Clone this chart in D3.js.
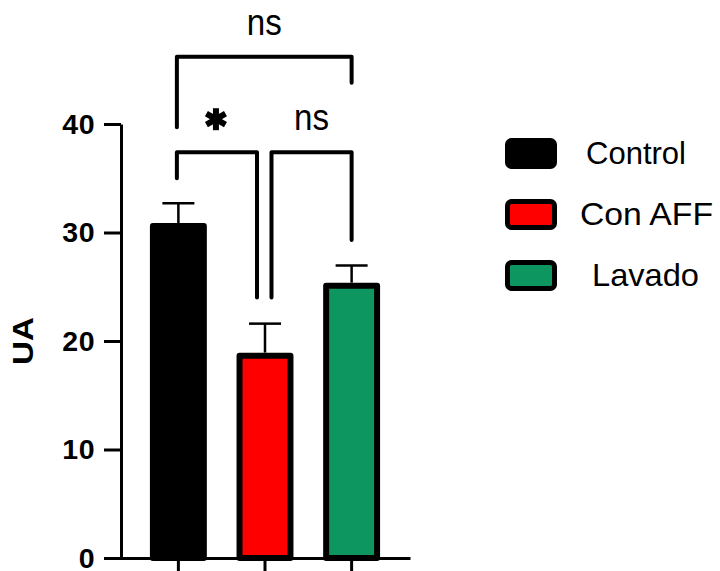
<!DOCTYPE html>
<html>
<head>
<meta charset="utf-8">
<script src="https://cdn.jsdelivr.net/npm/d3@7/dist/d3.min.js"></script>
<style>
  html, body { margin: 0; padding: 0; background: #fff; }
  svg { display: block; }
  text { font-family: "Liberation Sans", Arial, Helvetica, sans-serif; }
</style>
</head>
<body>
<svg id="chart" width="720" height="571"></svg>
<script>
// Groups, means and upper error limits (mean + SEM)
const groups = ["Control", "Con AFF", "Lavado"];
const means = [30.6, 18.65, 25.1];
const upper = [32.7, 21.6, 26.95];
const fills = ["#000000", "#ff0000", "#0e9660"];
const yTicks = [0, 10, 20, 30, 40];
const yLabel = "UA";

// Pairwise comparisons: [group A, group B, label]
const comparisons = [
  ["Control", "Con AFF", "*"],
  ["Con AFF", "Lavado", "ns"],
  ["Control", "Lavado", "ns"]
];

const svg = d3.select("#chart");

const x = d3.scaleBand()
  .domain(groups)
  .range([120, 410])
  .paddingInner(0.412)
  .paddingOuter(0.38);

const y = d3.scaleLinear().domain([0, 40]).range([558, 124]);

const color = d3.scaleOrdinal().domain(groups).range(fills);

const rows = groups.map((g, i) => ({ group: g, mean: means[i], upper: upper[i] }));

// Bars
svg.append("g").selectAll("rect")
  .data(rows)
  .join("rect")
  .attr("x", d => x(d.group))
  .attr("y", d => y(d.mean))
  .attr("width", x.bandwidth())
  .attr("height", d => y(0) - y(d.mean))
  .attr("fill", d => color(d.group))
  .attr("stroke", "#000")
  .attr("stroke-width", 6)
  .attr("stroke-linejoin", "round");

// Upper error bars
const eb = svg.append("g").attr("stroke", "#000").attr("stroke-width", 2.5);
eb.selectAll("line.stem")
  .data(rows)
  .join("line")
  .attr("class", "stem")
  .attr("x1", d => x(d.group) + x.bandwidth() / 2)
  .attr("x2", d => x(d.group) + x.bandwidth() / 2)
  .attr("y1", d => y(d.mean) - 3)
  .attr("y2", d => y(d.upper));
eb.selectAll("line.cap")
  .data(rows)
  .join("line")
  .attr("class", "cap")
  .attr("x1", d => x(d.group) + x.bandwidth() / 2 - 16)
  .attr("x2", d => x(d.group) + x.bandwidth() / 2 + 16)
  .attr("y1", d => y(d.upper))
  .attr("y2", d => y(d.upper));

// Axes
const yAxis = svg.append("g")
  .attr("transform", "translate(121,0)")
  .call(d3.axisLeft(y).tickValues(yTicks).tickSize(17).tickSizeOuter(0).tickPadding(9));
yAxis.select(".domain").attr("stroke-width", 3);
yAxis.selectAll(".tick line").attr("stroke-width", 3);
yAxis.selectAll(".tick text")
  .attr("font-size", 28.5)
  .attr("font-weight", "bold")
  .attr("fill", "#000")
  .attr("font-family", "Liberation Sans, Arial, sans-serif")
  .attr("letter-spacing", 0.5);

const xAxis = svg.append("g")
  .attr("transform", "translate(0,558)")
  .call(d3.axisBottom(x).tickSize(16).tickSizeOuter(0).tickFormat(""));
xAxis.select(".domain").attr("stroke-width", 3);
xAxis.selectAll(".tick line").attr("stroke-width", 3);

// Y axis title
svg.append("text")
  .attr("transform", "translate(33,341) rotate(-90)")
  .attr("text-anchor", "middle")
  .attr("font-size", 30)
  .attr("font-weight", "bold")
  .attr("textLength", 48)
  .attr("lengthAdjust", "spacingAndGlyphs")
  .text(yLabel);

// Significance brackets
const cx = g => x(g) + x.bandwidth() / 2;
const bracketLayout = [
  // bar value at bracket top, left leg end, right leg end, left/right x shift, label offsets
  { top: 37.4, left: 35.0, right: 24.0, dl: 0, dr: -8, lx: -1, ly: 33 },
  { top: 37.4, left: 24.0, right: 29.3, dl: 8, dr: 0, lx: 0, ly: 22 },
  { top: 46.2, left: 39.7, right: 43.8, dl: 0, dr: 0, lx: 0, ly: 22 }
];
const brackets = svg.append("g");
comparisons.forEach((c, i) => {
  const L = bracketLayout[i];
  const x1 = cx(c[0]) + L.dl - 1.5, x2 = cx(c[1]) + L.dr;
  brackets.append("path")
    .attr("d", `M${x1},${y(L.left)}V${y(L.top)}H${x2}V${y(L.right)}`)
    .attr("fill", "none")
    .attr("stroke", "#000")
    .attr("stroke-width", 4)
    .attr("stroke-linecap", "round")
    .attr("stroke-linejoin", "round");
  const mx = (x1 + x2) / 2 + L.lx;
  if (c[2] === "*") {
    // heavy six-spoke asterisk
    const r = 11, ax = mx, ay = y(L.top) - L.ly;
    [90, 30, 150].forEach(a => {
      const t = a * Math.PI / 180;
      brackets.append("line")
        .attr("x1", ax - r * Math.cos(t)).attr("y1", ay - r * Math.sin(t))
        .attr("x2", ax + r * Math.cos(t)).attr("y2", ay + r * Math.sin(t))
        .attr("stroke", "#000").attr("stroke-width", 6);
    });
  } else {
    brackets.append("text")
      .attr("x", mx)
      .attr("y", y(L.top) - L.ly)
      .attr("text-anchor", "middle")
      .attr("font-size", 36)
      .attr("textLength", 35)
      .attr("lengthAdjust", "spacingAndGlyphs")
      .text(c[2]);
  }
});

// Legend
const legendRows = [
  { y: 140.5, tx: 586, tw: 100 },
  { y: 201.5, tx: 580, tw: 133 },
  { y: 262.5, tx: 592, tw: 107 }
];
const legend = svg.append("g");
groups.forEach((g, i) => {
  const r = legendRows[i];
  legend.append("rect")
    .attr("x", 507.5).attr("y", r.y)
    .attr("width", 47).attr("height", 26)
    .attr("rx", 4)
    .attr("fill", color(g))
    .attr("stroke", "#000")
    .attr("stroke-width", 5);
  legend.append("text")
    .attr("x", r.tx).attr("y", r.y + 23)
    .attr("font-size", 32)
    .attr("textLength", r.tw)
    .attr("lengthAdjust", "spacingAndGlyphs")
    .text(g);
});
</script>
</body>
</html>
